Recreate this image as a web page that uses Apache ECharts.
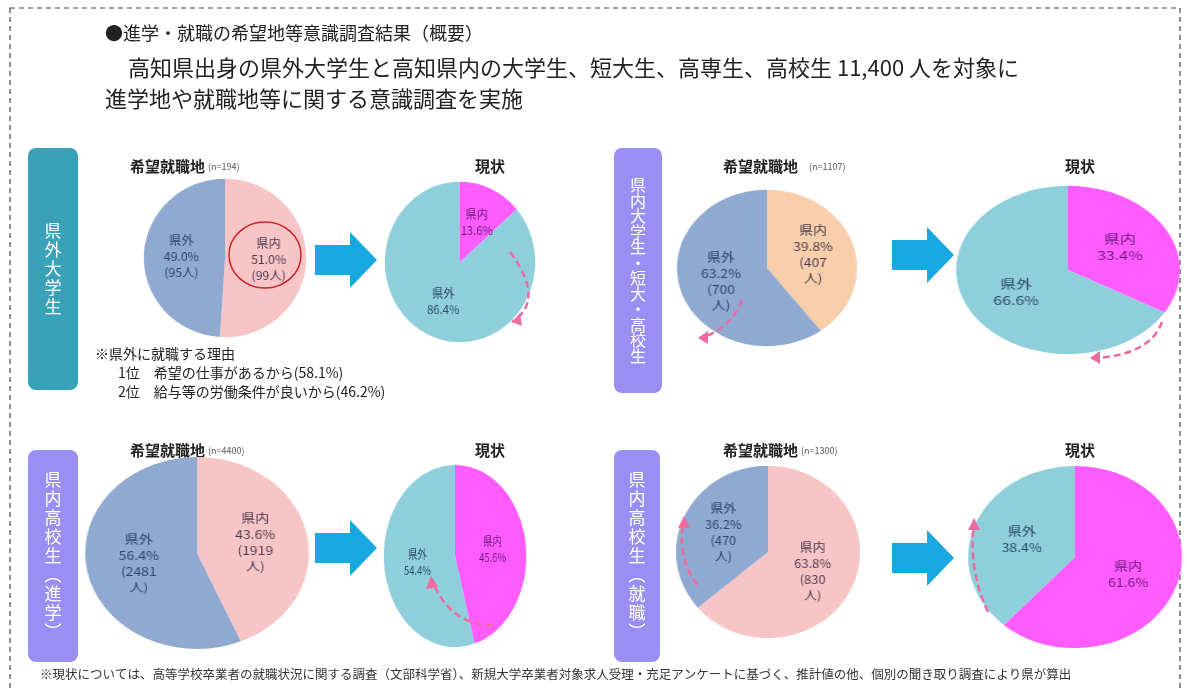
<!DOCTYPE html>
<html><head><meta charset="utf-8">
<script src="https://cdn.jsdelivr.net/npm/echarts@6/dist/echarts.min.js"></script>
<style>
body{margin:0;background:#fff;}
#base,#over{position:absolute;left:0;top:0;width:1187px;height:691px;}
#over{pointer-events:none;}
.pie{position:absolute;}
</style></head>
<body>
<div id="base"></div>
<div id="pies"></div>
<div id="over"></div>
<script>
// 希望就職地（県内 / 県外）
var groups = ['県外大学生', '県内大学生・短大・高校生', '県内高校生（進学）', '県内高校生（就職）'];
var sampleN = ['(n=194)', '(n=1107)', '(n=4400)', '(n=1300)'];
var wishIn = [51.0, 39.8, 43.6, 63.8];
var wishOut = [49.0, 60.2, 56.4, 36.2];
var wishInText = ['51.0%', '39.8%', '43.6%', '63.8%'];
var wishOutText = ['49.0%', '63.2%', '56.4%', '36.2%'];
var peopleIn = ['(99人)', '(407\n人)', '(1919\n人)', '(830\n人)'];
var peopleOut = ['(95人)', '(700\n人)', '(2481\n人)', '(470\n人)'];
// 現状
var nowIn = [13.6, 33.4, 45.6, 61.6];
var nowOut = [86.4, 66.6, 54.4, 38.4];

var FONT = '"Noto Sans CJK JP", sans-serif';
var wishInColor = ['#f8c5c6', '#f8cfaa', '#f8c5c6', '#f8c5c6'];

// 楕円の位置 [cx, cy, rx, ry]
var wishPos = [[225,258,82,80],[767,268,91,79],[197,553,113,97],[768,552,93,87]];
var nowPos = [[460,262,76,81],[1068,270,113,85],[455,556,72,92],[1075,557,108,92]];

function makePie(pos, data, colors, labelColor) {
    var d = document.createElement('div');
    d.className = 'pie';
    var s = pos[3] * 2;
    d.style.left = (pos[0] - pos[3]) + 'px';
    d.style.top = (pos[1] - pos[3]) + 'px';
    d.style.width = s + 'px';
    d.style.height = s + 'px';
    d.style.transform = 'scaleX(' + (pos[2] / pos[3]) + ')';
    document.getElementById('pies').appendChild(d);
    var c = echarts.init(d);
    c.setOption({
        animation: false,
        series: [{
            type: 'pie', radius: '99%', center: ['50%', '50%'], startAngle: 90,
            clockwise: true, silent: true,
            label: {position: 'inside', fontFamily: FONT, fontSize: 12, lineHeight: 16},
            data: data.map(function (x, i) {
                return {value: x.v, name: x.n, itemStyle: {color: colors[i]},
                    label: {formatter: x.t, color: labelColor[i]}};
            })
        }]
    });
}

for (var i = 0; i < 4; i++) {
    makePie(wishPos[i], [
        {v: wishIn[i], n: '県内', t: '県内\n' + wishInText[i] + '\n' + peopleIn[i]},
        {v: wishOut[i], n: '県外', t: '県外\n' + wishOutText[i] + '\n' + peopleOut[i]}
    ], [wishInColor[i], '#8fa9d0'], ['#4a3a50', '#2d4670']);
    makePie(nowPos[i], [
        {v: nowIn[i], n: '県内', t: '県内\n' + nowIn[i].toFixed(1) + '%'},
        {v: nowOut[i], n: '県外', t: '県外\n' + nowOut[i].toFixed(1) + '%'}
    ], ['#ff5cff', '#8fcfdc'], ['#6a1a7a', '#2d4a6a']);
}

// 背景・文字
var g = [];
g.push({type: 'rect', shape: {x: 10, y: 8, width: 1170, height: 700},
    style: {fill: 'none', stroke: '#444', lineWidth: 1.2, lineDash: [5, 4]}});
g.push({type: 'text', x: 105, y: 24, style: {text: '●進学・就職の希望地等意識調査結果（概要）', font: '18px ' + FONT, fill: '#222'}});
g.push({type: 'text', x: 128, y: 57, style: {text: '高知県出身の県外大学生と高知県内の大学生、短大生、高専生、高校生 11,400 人を対象に', font: '22px ' + FONT, fill: '#222'}});
g.push({type: 'text', x: 105, y: 88, style: {text: '進学地や就職地等に関する意識調査を実施', font: '22px ' + FONT, fill: '#222'}});

var boxes = [[28,148,50,242,'#3aa2b8'],[614,148,48,245,'#9b8ef2'],[28,450,50,212,'#9b8ef2'],[614,450,46,212,'#9b8ef2']];
var boxText = ['県\n外\n大\n学\n生', '県\n内\n大\n学\n生\n・\n短\n大\n・\n高\n校\n生', '県\n内\n高\n校\n生\n︵\n進\n学\n︶', '県\n内\n高\n校\n生\n︵\n就\n職\n︶'];
boxes.forEach(function (b, i) {
    g.push({type: 'rect', shape: {x: b[0], y: b[1], width: b[2], height: b[3], r: 8}, style: {fill: b[4]}});
    g.push({type: 'text', x: b[0] + b[2] / 2, y: b[1] + b[3] / 2,
        style: {text: boxText[i], font: (i == 1 ? '16px ' : '17px ') + FONT, fill: '#fff', align: 'center', verticalAlign: 'middle', lineHeight: i == 1 ? 15.5 : 19}});
});

var heads = [[130,166,490],[723,166,1080],[130,450,490],[723,450,1080]];
heads.forEach(function (h, i) {
    g.push({type: 'text', x: h[0], y: h[1], style: {text: '希望就職地', font: 'bold 15px ' + FONT, fill: '#222', verticalAlign: 'middle'}});
    g.push({type: 'text', x: h[0] + 78 + (i == 1 ? 8 : 0), y: h[1] + 1, style: {text: sampleN[i], font: '9px ' + FONT, fill: '#555', verticalAlign: 'middle'}});
    g.push({type: 'text', x: h[2], y: h[1], style: {text: '現状', font: 'bold 15px ' + FONT, fill: '#222', align: 'center', verticalAlign: 'middle'}});
});

var arrows = [[315,260],[892,255],[315,548],[892,558]];
arrows.forEach(function (a) {
    g.push({type: 'polygon', shape: {points: [[a[0], a[1] - 15], [a[0] + 35, a[1] - 15], [a[0] + 35, a[1] - 28], [a[0] + 62, a[1]],
        [a[0] + 35, a[1] + 28], [a[0] + 35, a[1] + 15], [a[0], a[1] + 15]]}, style: {fill: '#1aa8e2'}});
});

g.push({type: 'text', x: 95, y: 347, style: {text: '※県外に就職する理由', font: '14px ' + FONT, fill: '#222'}});
g.push({type: 'text', x: 118, y: 366, style: {text: '1位　希望の仕事があるから(58.1%)', font: '14px ' + FONT, fill: '#222'}});
g.push({type: 'text', x: 118, y: 385, style: {text: '2位　給与等の労働条件が良いから(46.2%)', font: '14px ' + FONT, fill: '#222'}});
g.push({type: 'text', x: 40, y: 668, style: {text: '※現状については、高等学校卒業者の就職状況に関する調査（文部科学省）、新規大学卒業者対象求人受理・充足アンケートに基づく、推計値の他、個別の聞き取り調査により県が算出', font: '12.5px ' + FONT, fill: '#333'}});

echarts.init(document.getElementById('base')).setOption({animation: false, graphic: g});

// 点線矢印・赤丸
var o = [];
o.push({type: 'ellipse', shape: {cx: 265, cy: 255, rx: 36, ry: 33}, style: {fill: 'none', stroke: '#d02424', lineWidth: 1.5}});
var curves = [
    [510,252,546,300,512,322, [[512,322],[520,313],[522,326]]],
    [742,300,730,330,700,338, [[698,338],[708,331],[708,344]]],
    [1162,322,1150,355,1095,358, [[1090,358],[1100,351],[1100,364]]],
    [492,625,450,625,432,580, [[431,576],[426,589],[438,587]]],
    [697,585,676,555,684,520, [[684,516],[678,528],[690,528]]],
    [988,612,968,570,974,522, [[974,518],[968,530],[980,530]]]
];
curves.forEach(function (c) {
    o.push({type: 'bezierCurve', shape: {x1: c[0], y1: c[1], cpx1: c[2], cpy1: c[3], x2: c[4], y2: c[5]},
        style: {fill: 'none', stroke: '#ee6aa0', lineWidth: 2.5, lineDash: [7, 4]}});
    o.push({type: 'polygon', shape: {points: c[6]}, style: {fill: '#ee6aa0'}});
});
echarts.init(document.getElementById('over')).setOption({animation: false, graphic: o});
</script>
</body></html>
